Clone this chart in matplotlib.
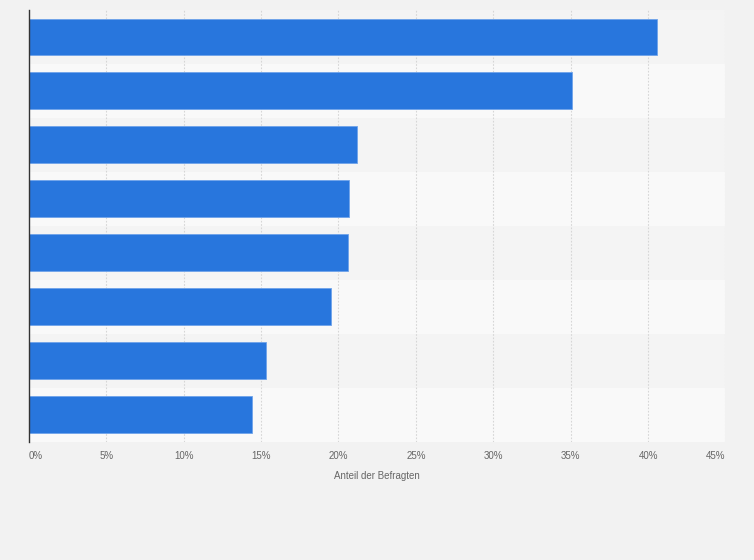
import matplotlib.pyplot as plt
import numpy as np

# Anteil der Befragten in %, von oben nach unten
werte = [40.6, 35.1, 21.2, 20.7, 20.6, 19.5, 15.3, 14.4]
x_ticks = [0, 5, 10, 15, 20, 25, 30, 35, 40, 45]
x_label = "Anteil der Befragten"

plt.rcParams["font.family"] = ["Liberation Sans", "DejaVu Sans"]

fig = plt.figure(figsize=(7.54, 5.6), dpi=100, facecolor="#f2f2f2")
ax = fig.add_axes([0.0383, 0.2112, 0.9239, 0.7709])
ax.set_facecolor("#f2f2f2")

pos = np.arange(len(werte))

# abwechselnde Zeilenhintergründe
for i in pos:
    farbe = "#f4f4f4" if i % 2 == 0 else "#f9f9f9"
    ax.axhspan(i - 0.5, i + 0.5, color=farbe, zorder=0, lw=0)

for t in x_ticks[1:]:
    ax.axvline(t, color="#d6d6d6", lw=0.8, ls=(0, (1.5, 1.5)), zorder=1)

ax.barh(pos, werte, height=0.685, color="#2876dd",
        edgecolor="#6fa3ea", linewidth=0.6, zorder=2)

ax.set_xlim(0, 45)
ax.set_ylim(len(werte) - 0.5, -0.5)
ax.set_xticks(x_ticks)
ax.set_xticklabels([f"{t}%" for t in x_ticks], fontsize=7, color="#666666")
labels = ax.get_xticklabels()
labels[0].set_ha("left")
labels[-1].set_ha("right")
ax.set_yticks([])
ax.tick_params(axis="x", length=0, pad=7)
ax.set_xlabel(x_label, fontsize=7, color="#666666", labelpad=7)

for s in ["top", "right", "bottom"]:
    ax.spines[s].set_visible(False)
ax.spines["left"].set_color("#333333")
ax.spines["left"].set_linewidth(1.0)
ax.spines["left"].set_zorder(3)

fig.savefig("out.png", dpi=100, facecolor=fig.get_facecolor())
